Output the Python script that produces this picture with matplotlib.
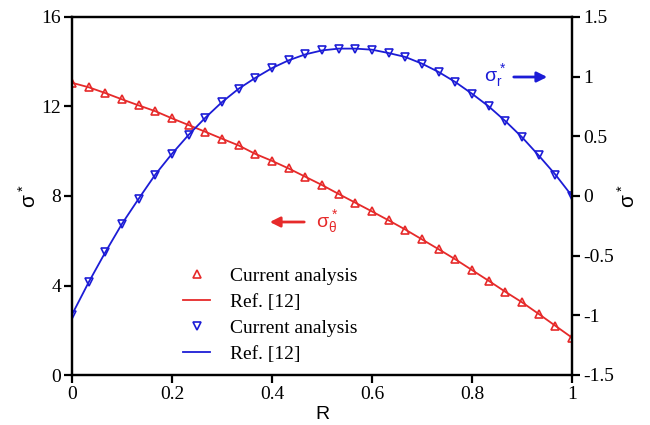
import numpy as np
import matplotlib
matplotlib.use("Agg")
import matplotlib.pyplot as plt

plt.rcParams["mathtext.fontset"] = "custom"
plt.rcParams["mathtext.rm"] = "Liberation Sans"
plt.rcParams["mathtext.it"] = "Liberation Sans"
plt.rcParams["mathtext.bf"] = "Liberation Sans:bold"

# Data
R = [i / 30 for i in range(31)]
sigma_theta = [13.06, 12.86, 12.60, 12.32, 12.05, 11.79, 11.47, 11.17, 10.87, 10.56,
               10.26, 9.88, 9.57, 9.23, 8.86, 8.49, 8.09, 7.70, 7.31, 6.91,
               6.50, 6.06, 5.62, 5.17, 4.69, 4.21, 3.72, 3.25, 2.73, 2.20, 1.67]
sigma_r = [-0.994, -0.723, -0.471, -0.233, -0.023, 0.180, 0.354, 0.513, 0.656, 0.787,
           0.899, 0.990, 1.072, 1.137, 1.187, 1.220, 1.235, 1.235, 1.226, 1.198,
           1.165, 1.109, 1.039, 0.955, 0.857, 0.751, 0.628, 0.493, 0.340, 0.180, 0.0]

x_ticks = [0, 0.2, 0.4, 0.6, 0.8, 1]
x_ticklabels = ["0", "0.2", "0.4", "0.6", "0.8", "1"]
yl_ticks = [0, 4, 8, 12, 16]
yr_ticks = [-1.5, -1, -0.5, 0, 0.5, 1, 1.5]
yr_ticklabels = ["-1.5", "-1", "-0.5", "0", "0.5", "1", "1.5"]

RED = "#e62a2a"
BLUE = "#1c1cd6"
serif = "Liberation Serif"
sans = "Liberation Sans"
FS = 14

fig = plt.figure(figsize=(6.5, 4.25), dpi=100)
ax = fig.add_axes([72/650, 1-375/425, 500/650, 358/425])
ax2 = ax.twinx()

h1, = ax.plot(R, sigma_theta, linestyle="none", marker="^", markersize=5.5,
              markerfacecolor="none", markeredgecolor=RED, markeredgewidth=1.2,
              label="Current analysis")
h2, = ax.plot(R, sigma_theta, color=RED, lw=1.3, label="Ref. [12]")
h3, = ax2.plot(R, sigma_r, linestyle="none", marker="v", markersize=5.5,
               markerfacecolor="none", markeredgecolor=BLUE, markeredgewidth=1.2,
               label="Current analysis")
h4, = ax2.plot(R, sigma_r, color=BLUE, lw=1.3, label="Ref. [12]")

ax.set_xlim(0, 1)
ax.set_ylim(0, 16)
ax2.set_ylim(-1.5, 1.5)
ax.set_xticks(x_ticks)
ax.set_xticklabels(x_ticklabels)
ax.set_yticks(yl_ticks)
ax2.set_yticks(yr_ticks)
ax2.set_yticklabels(yr_ticklabels)

for a in (ax, ax2):
    for s in a.spines.values():
        s.set_linewidth(1.6)
    a.tick_params(direction="out", length=6, width=1.6, labelsize=FS, pad=2)
    for lbl in a.get_xticklabels() + a.get_yticklabels():
        lbl.set_fontfamily(serif)

ax.set_xlabel("R", fontfamily=sans, fontsize=FS, labelpad=2)
ax.set_ylabel(r"$\sigma^*$", fontsize=15, labelpad=1)
ax2.set_ylabel(r"$\sigma^*$", fontsize=15, labelpad=2, rotation=90)

leg = ax.legend(handles=[h1, h2, h3, h4], loc="upper left",
                bbox_to_anchor=(0.222, 0.30), frameon=False,
                prop={"family": serif, "size": FS}, handlelength=1.4,
                labelspacing=0.42, borderpad=0.0, borderaxespad=0.0,
                handletextpad=1.0)

# annotations
ax.annotate("", xy=(267/650, 1-222/425), xycoords="figure fraction",
            xytext=(307/650, 1-222/425), textcoords="figure fraction",
            arrowprops=dict(arrowstyle="-|>", color=RED, lw=2, mutation_scale=15))
fig.text(316/650, 1-222/425, r"$\sigma_\theta^*$", color=RED, fontsize=FS,
         va="center", ha="left")
ax.annotate("", xy=(550/650, 1-77/425), xycoords="figure fraction",
            xytext=(511/650, 1-77/425), textcoords="figure fraction",
            arrowprops=dict(arrowstyle="-|>", color=BLUE, lw=2, mutation_scale=15))
fig.text(484/650, 1-76/425, r"$\sigma_r^*$", color=BLUE, fontsize=FS,
         va="center", ha="left")

fig.savefig("out.png", dpi=100)
